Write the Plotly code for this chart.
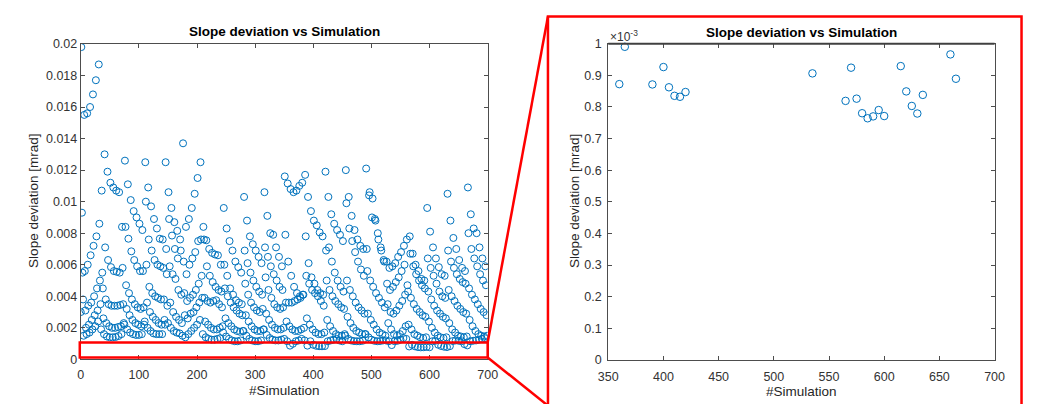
import numpy as np
import plotly.graph_objects as go

# ---- data (slope deviation, in units of 1e-3 mrad), 5 interleaved strands of 140 points ----
# strand j holds the points at #Simulation = 5*k + j
strand0 = [
    3.0, 1.5, 1.6, 1.7, 1.9, 2.1, 2.4,
    1.9, 1.6, 1.45, 1.4, 1.4, 1.42, 1.48,
    1.6, 2.2, 1.9, 1.7, 1.6, 1.55, 1.55,
    1.6, 2.4, 2.0, 1.8, 1.65, 1.6, 1.6,
    1.6, 2.2, 2.3, 2.0, 1.8, 1.7, 1.65,
    1.5, 1.4, 1.6, 1.8, 2.0, 2.2, 2.5,
    1.6, 1.4, 1.3, 1.25, 1.25, 1.3, 1.35,
    1.7, 1.45, 1.3, 1.2, 1.15, 1.15, 1.2,
    1.8, 1.5, 1.3, 1.2, 1.15, 1.15, 1.2,
    1.9, 1.55, 1.35, 1.25, 1.2, 1.2, 1.25,
    1.3, 1.15, 0.872, 0.99, 1.15, 1.2, 1.3,
    1.2, 0.871, 1.15, 0.926, 0.862, 0.835, 0.832,
    0.847, 1.15, 1.2, 1.25, 1.3, 1.2, 1.15,
    1.5, 1.3, 1.2, 1.16, 1.15, 1.15, 1.18,
    1.6, 1.4, 1.25, 1.18, 1.15, 1.16, 1.2,
    1.2, 1.15, 0.906, 1.15, 1.18, 1.25, 1.35,
    1.3, 0.819, 0.924, 0.826, 0.780, 0.764, 0.770,
    0.790, 0.771, 1.15, 1.18, 0.929, 0.849, 0.803,
    0.779, 0.838, 1.16, 1.2, 1.18, 1.15, 0.966,
    0.889, 1.15, 1.18, 1.2, 1.25, 1.3, 1.35,
]
strand1 = [
    19.8, 15.5, 15.6, 16.0, 16.8, 17.7, 18.7,
    10.7, 13.0, 11.9, 11.2, 10.9, 10.7, 10.6,
    8.4, 12.6, 11.1, 10.1, 9.4, 9.0, 8.6,
    8.2, 12.5, 10.9, 9.7, 8.9, 8.3, 7.65,
    7.6, 12.5, 10.6, 9.6, 8.7, 8.15, 7.6,
    13.7, 8.4, 8.9, 9.6, 10.5, 11.5, 12.5,
    8.4, 7.55, 7.0, 6.75, 6.65, 6.6, 6.0,
    9.6, 8.3, 7.5, 6.9, 6.2, 5.85, 5.5,
    10.3, 8.8, 7.8, 7.3, 6.9, 6.5, 6.1,
    10.6, 9.1, 8.0, 7.9, 7.1, 6.5, 5.9,
    11.6, 11.15, 10.8, 10.6, 10.7, 11.0, 11.2,
    11.7, 10.3, 9.4, 8.8, 8.5, 8.05, 7.8,
    11.9, 10.3, 9.2, 8.6, 8.2, 7.9, 7.5,
    12.0, 10.3, 9.1, 8.2, 7.6, 7.2, 7.0,
    12.1, 10.4, 9.0, 8.9, 8.0, 7.1, 6.3,
    6.2, 5.8, 5.9, 6.1, 6.5, 6.8, 7.2,
    7.6, 7.8, 6.7, 6.0, 5.6, 5.1, 5.0,
    9.6, 8.1, 7.1, 6.4, 5.85, 5.4, 5.3,
    10.5, 8.8, 7.7, 7.0, 6.3, 5.8, 5.6,
    10.9, 9.2, 8.3, 8.0, 7.1, 6.4, 5.9,
]
strand2 = [
    9.3, 5.6, 6.0, 6.6, 7.2, 7.8, 8.6,
    5.5, 7.1, 6.3, 5.85, 5.6, 5.55, 5.5,
    5.8, 8.4, 7.65, 6.85, 6.3, 5.9, 5.6,
    5.6, 10.0, 7.6, 6.9, 6.3, 6.0, 5.9,
    5.8, 7.0, 8.9, 7.85, 7.0, 6.4, 6.9,
    6.2, 5.4, 6.0, 6.4, 6.8, 7.5, 7.6,
    7.6, 5.9, 5.3, 4.9, 4.6, 4.4, 4.3,
    6.0, 5.3, 4.5, 4.1, 3.75, 3.6, 3.5,
    6.9, 6.1, 5.5, 5.0, 4.6, 4.3, 4.1,
    7.1, 6.5, 5.9, 5.4, 5.0, 4.6, 4.4,
    7.9, 6.2, 5.3, 4.6, 4.2, 4.0, 4.1,
    7.8, 6.1, 5.2, 4.8, 4.4, 4.2, 4.1,
    6.9, 7.1, 6.2, 5.5, 5.0, 4.6, 4.3,
    9.9, 8.3, 7.5, 6.8, 6.2, 5.7, 5.3,
    7.0, 10.6, 10.2, 8.8, 7.6, 6.9, 6.2,
    4.8, 4.4, 4.6, 4.9, 5.2, 5.6, 6.0,
    4.7, 6.7, 5.9, 5.4, 5.0, 4.7, 4.5,
    6.4, 5.8, 5.3, 4.8, 4.3, 4.0, 3.9,
    6.9, 6.2, 5.8, 5.4, 5.1, 4.9, 4.8,
    8.0, 7.0, 6.4, 5.9, 5.4, 5.0, 4.7,
]
strand3 = [
    5.5, 3.1, 3.4, 3.6, 4.0, 4.5, 5.0,
    4.5, 3.8, 3.5, 3.4, 3.4, 3.4, 3.45,
    3.5, 4.7, 4.2, 3.8, 3.5, 3.3, 3.2,
    3.3, 6.0, 4.6, 4.2, 4.0, 3.9, 3.8,
    3.8, 5.4, 5.9, 5.4, 5.1, 4.4, 4.1,
    4.2, 3.7, 3.9, 4.1, 4.4, 4.8, 5.3,
    3.9, 3.7, 3.6, 3.7, 3.75, 3.5, 3.3,
    4.5, 4.0, 3.6, 3.3, 3.1, 2.9, 2.8,
    4.8, 4.1, 3.6, 3.3, 3.1, 3.0, 3.2,
    5.2, 4.4, 3.9, 3.5, 3.3, 3.2, 3.3,
    3.6, 3.6, 3.6, 3.7, 3.8, 3.9, 4.1,
    5.3, 4.8, 4.4, 4.2, 4.0, 3.7, 3.4,
    5.0, 4.4, 4.0, 3.7, 3.5, 3.3, 3.2,
    5.0, 4.4, 4.0, 3.6, 3.3, 3.1, 2.9,
    5.6, 5.0, 4.6, 4.2, 3.9, 3.6, 3.3,
    3.5, 3.0, 2.9, 3.1, 3.4, 3.7, 4.1,
    4.3, 3.9, 3.5, 3.2, 3.0, 2.8, 2.7,
    4.3, 3.8, 3.4, 3.1, 2.9, 2.7, 2.6,
    4.4, 4.0, 3.7, 3.4, 3.2, 3.0, 2.9,
    4.5, 4.1, 3.8, 3.5, 3.2, 3.0, 2.8,
]
strand4 = [
    3.8, 2.0, 2.2, 2.5, 2.8, 3.1, 3.5,
    2.6, 2.3, 2.1, 2.0, 2.0, 2.05, 2.1,
    2.3, 3.2, 2.8, 2.5, 2.3, 2.2, 2.1,
    2.2, 3.6, 3.0, 2.7, 2.5, 2.3, 2.2,
    2.5, 3.4, 3.6, 3.0, 2.7, 2.5, 2.3,
    2.8, 2.6, 2.9, 3.0, 3.3, 3.6, 3.9,
    2.4, 2.2, 2.0, 1.9, 1.9, 2.0, 2.1,
    2.6, 2.3, 2.1, 1.9, 1.8, 1.75, 1.8,
    2.8, 2.4, 2.1, 1.9, 1.8, 1.8, 1.9,
    2.9, 2.5, 2.2, 2.0, 1.9, 1.9, 2.0,
    2.4, 2.1, 1.9, 1.8, 1.8, 1.9, 2.0,
    2.6, 2.2, 1.9, 1.7, 1.6, 1.6, 1.7,
    2.5, 2.1, 1.8, 1.6, 1.5, 1.5, 1.6,
    2.7, 2.3, 2.0, 1.8, 1.7, 1.6, 1.6,
    2.9, 2.5, 2.2, 1.9, 1.7, 1.6, 1.5,
    2.3, 1.9, 1.6, 1.5, 1.6, 1.8, 2.1,
    2.2, 1.9, 1.6, 1.5, 1.4, 1.35, 1.4,
    2.4, 2.0, 1.7, 1.5, 1.4, 1.35, 1.4,
    2.3, 1.9, 1.7, 1.5, 1.45, 1.4, 1.45,
    2.5, 2.1, 1.8, 1.6, 1.5, 1.45, 1.5,
]

left_xticks = [0, 100, 200, 300, 400, 500, 600, 700]
left_yticks = [0, 0.002, 0.004, 0.006, 0.008, 0.01, 0.012, 0.014, 0.016, 0.018, 0.02]
left_yticklabels = ["0", "0.002", "0.004", "0.006", "0.008", "0.01", "0.012", "0.014", "0.016", "0.018", "0.02"]
right_xticks = [350, 400, 450, 500, 550, 600, 650, 700]
right_yticks = [0, 0.1e-3, 0.2e-3, 0.3e-3, 0.4e-3, 0.5e-3, 0.6e-3, 0.7e-3, 0.8e-3, 0.9e-3, 1e-3]
right_yticklabels = ["0", "0.1", "0.2", "0.3", "0.4", "0.5", "0.6", "0.7", "0.8", "0.9", "1"]

strands = [strand0, strand1, strand2, strand3, strand4]
n = 5 * len(strand0)
sim = np.arange(n)
dev = np.empty(n)
for j, s in enumerate(strands):
    dev[j::5] = np.array(s) * 1e-3

# The page keeps an 8px body margin, so the figure occupies the window minus 16px.
OFF = 8
W, H = 1041 - 2 * OFF, 412 - 2 * OFF
def px(x):
    return (x - OFF) / W
def py(y):
    return 1 - (y - OFF) / H

BLUE = "#0072BD"
AX = "#4d4d4d"
FONT = "Arial, Liberation Sans, Helvetica, sans-serif"

fig = go.Figure()
fig.add_trace(go.Scatter(
    x=sim, y=dev, mode="markers", xaxis="x", yaxis="y",
    marker=dict(symbol="circle-open", size=7, color=BLUE, line=dict(width=1, color=BLUE)),
    showlegend=False, hoverinfo="x+y"))

mask = (sim >= 350) & (sim <= 700) & (dev <= 1.0e-3)
fig.add_trace(go.Scatter(
    x=sim[mask], y=dev[mask], mode="markers", xaxis="x2", yaxis="y2",
    marker=dict(symbol="circle-open", size=7.5, color=BLUE, line=dict(width=1, color=BLUE)),
    cliponaxis=False, showlegend=False, hoverinfo="x+y"))

axis_common = dict(showgrid=False, zeroline=False, showline=True, linecolor=AX, linewidth=1,
                   mirror="ticks", ticks="inside", ticklen=4, tickcolor=AX, tickwidth=1,
                   tickfont=dict(family=FONT, size=12.5, color="#333333"))

fig.update_layout(
    width=W, height=H, margin=dict(l=0, r=0, t=0, b=0),
    paper_bgcolor="white", plot_bgcolor="white",
    xaxis=dict(domain=[px(72), px(487)], range=[0, 700], anchor="y",
               tickvals=left_xticks, ticklabelstandoff=4, **axis_common),
    yaxis=dict(domain=[py(365), py(38)], range=[0, 0.02], anchor="x",
               tickvals=left_yticks, ticktext=left_yticklabels, **axis_common),
    xaxis2=dict(domain=[px(610), px(1004)], range=[350, 700], anchor="y2",
                tickvals=right_xticks, ticklabelstandoff=5, **axis_common),
    yaxis2=dict(domain=[py(365.5), py(37.7)], range=[0, 1e-3], anchor="x2",
                tickvals=right_yticks, ticktext=right_yticklabels, ticklabelstandoff=3, **axis_common),
)

def ann(text, x, y, size=12, bold=False, angle=0, color="#262626", xanchor="center", yanchor="middle"):
    fig.add_annotation(text=("<b>%s</b>" % text) if bold else text, x=px(x), y=py(y),
                       xref="paper", yref="paper", showarrow=False, textangle=angle,
                       xanchor=xanchor, yanchor=yanchor,
                       font=dict(family=FONT, size=size, color=color))

ann("Slope deviation vs Simulation", 279.5, 25, size=13.5, bold=True, color="black")
ann("Slope deviation vs Simulation", 807, 26, size=13.5, bold=True, color="black")
ann("#Simulation", 279.5, 397, size=13.5)
ann("#Simulation", 807, 398, size=13.5)
ann("Slope deviation [mrad]", 23, 201, size=13.5, angle=-90)
ann("Slope deviation [mrad]", 575, 201, size=13.5, angle=-90)
ann("×10<sup>-3</sup>", 610, 30, size=12, color="#333333", xanchor="left")

RED = "#FF0000"
# thicker top edge of the zoomed axes
fig.add_shape(type="line", xref="paper", yref="paper", x0=px(610), x1=px(1004), y0=py(37.7), y1=py(37.7),
              line=dict(color="#404040", width=2))
# red zoom rectangle on the left plot
fig.add_shape(type="rect", xref="paper", yref="paper", x0=px(71), x1=px(487), y0=py(363), y1=py(347.5),
              line=dict(color=RED, width=2.5))
# big red frame around the zoomed plot (right edge kept inside the drawable area)
fig.add_shape(type="rect", xref="paper", yref="paper", x0=px(548.5), x1=px(1031.5), y0=py(420), y1=py(9.5),
              line=dict(color=RED, width=2.5))
# connecting lines
fig.add_shape(type="line", xref="paper", yref="paper", x0=px(487), y0=py(347.5), x1=px(548.5), y1=py(9.5),
              line=dict(color=RED, width=2.5))
fig.add_shape(type="line", xref="paper", yref="paper", x0=px(487), y0=py(363), x1=px(548.5), y1=py(413),
              line=dict(color=RED, width=2.5))

fig.write_html("out.html", config={"displayModeBar": False})
